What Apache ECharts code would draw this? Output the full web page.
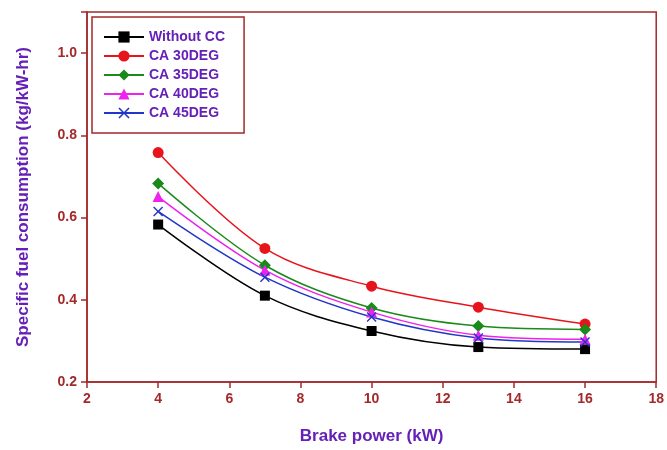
<!DOCTYPE html>
<html>
<head>
<meta charset="utf-8">
<script src="https://cdn.jsdelivr.net/npm/echarts@6/dist/echarts.min.js"></script>
<style>html,body{margin:0;padding:0;background:#fff}</style>
</head>
<body>
<div id="chart" style="width:667px;height:450px;"></div>
<script>
// brake power (kW)
var power = [4, 7, 10, 13, 16];
var withoutCC = [0.583, 0.410, 0.324, 0.285, 0.280];
var ca30 = [0.758, 0.525, 0.433, 0.382, 0.341];
var ca35 = [0.683, 0.484, 0.380, 0.336, 0.328];
var ca40 = [0.651, 0.472, 0.370, 0.314, 0.304];
var ca45 = [0.615, 0.455, 0.358, 0.307, 0.297];

var axisRed = '#a32a2a';
var purple = '#6520b8';
var font = 'Liberation Sans, Arial';
var cross = 'path://M1,0L5,4L9,0L10,1L6,5L10,9L9,10L5,6L1,10L0,9L4,5L0,1Z';

function pairs(vals) {
  return power.map(function (p, i) { return [p, vals[i]]; });
}
function line(name, vals, color, symbol, size) {
  return {
    name: name,
    type: 'line',
    smooth: 0.35,
    data: pairs(vals),
    symbol: symbol,
    symbolSize: size,
    lineStyle: { color: color, width: 1.5 },
    itemStyle: { color: color }
  };
}

var chart = echarts.init(document.getElementById('chart'));
chart.setOption({
  animation: false,
  backgroundColor: '#fff',
  grid: {
    left: 87, right: 10, top: 12, bottom: 67,
    show: true, borderColor: axisRed, borderWidth: 1.5
  },
  legend: {
    orient: 'vertical',
    left: 92, top: 17,
    padding: [13, 19, 13, 11],
    itemGap: 5,
    itemWidth: 40, itemHeight: 14,
    borderColor: axisRed, borderWidth: 1.5,
    textStyle: { color: purple, fontWeight: 'bold', fontSize: 14, fontFamily: font },
    data: ['Without CC', 'CA 30DEG', 'CA 35DEG', 'CA 40DEG', 'CA 45DEG']
  },
  xAxis: {
    type: 'value', min: 2, max: 18, interval: 2,
    name: 'Brake power (kW)', nameLocation: 'middle', nameGap: 46,
    nameTextStyle: { color: purple, fontWeight: 'bold', fontSize: 17, fontFamily: font },
    axisLine: { lineStyle: { color: axisRed, width: 1.5 } },
    axisTick: { show: true, length: 6, lineStyle: { color: axisRed, width: 1.5 } },
    axisLabel: { color: axisRed, fontWeight: 'bold', fontSize: 14, margin: 10, fontFamily: font },
    splitLine: { show: false }
  },
  yAxis: {
    type: 'value', min: 0.2, max: 1.1, interval: 0.2,
    name: 'Specific fuel consumption (kg/kW-hr)', nameLocation: 'middle', nameGap: 55,
    nameTextStyle: { color: purple, fontWeight: 'bold', fontSize: 17, fontFamily: font },
    axisLine: { show: true, lineStyle: { color: axisRed, width: 1.5 } },
    axisTick: { show: true, length: 6, lineStyle: { color: axisRed, width: 1.5 } },
    axisLabel: {
      color: axisRed, fontWeight: 'bold', fontSize: 14, margin: 10, fontFamily: font,
      formatter: function (v) { return v > 1.05 ? '' : v.toFixed(1); }
    },
    splitLine: { show: false }
  },
  series: [
    line('Without CC', withoutCC, '#000000', 'rect', 10),
    line('CA 30DEG', ca30, '#e8141b', 'circle', 11),
    line('CA 35DEG', ca35, '#1a8a1a', 'diamond', 12),
    line('CA 40DEG', ca40, '#ee22ee', 'triangle', 11),
    line('CA 45DEG', ca45, '#2236c8', cross, 10)
  ]
});
</script>
</body>
</html>
